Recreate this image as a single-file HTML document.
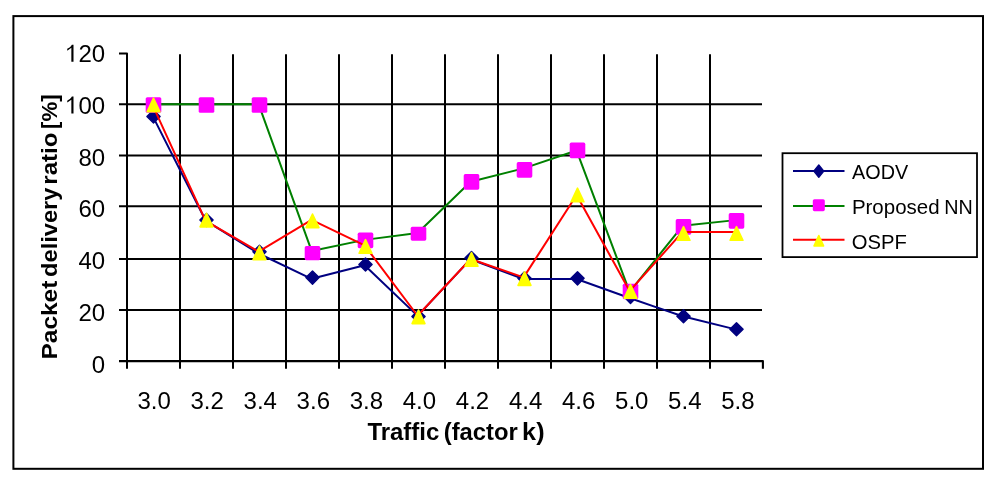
<!DOCTYPE html><html><head><meta charset="utf-8"><style>
html,body{margin:0;padding:0;background:#fff;width:1000px;height:480px;overflow:hidden}
svg{display:block;will-change:transform}
text{font-family:"Liberation Sans",sans-serif;font-variant-ligatures:none}
</style></head><body>
<svg width="1000" height="480" viewBox="0 0 1000 480">
<rect x="13.4" y="16.1" width="969.6" height="452.7" fill="none" stroke="#000" stroke-width="2"/>
<line x1="119" y1="310.1" x2="762" y2="310.1" stroke="#000" stroke-width="2"/>
<line x1="119" y1="259.05" x2="762" y2="259.05" stroke="#000" stroke-width="2"/>
<line x1="119" y1="206.25" x2="762" y2="206.25" stroke="#000" stroke-width="2"/>
<line x1="119" y1="155.4" x2="762" y2="155.4" stroke="#000" stroke-width="2"/>
<line x1="119" y1="104.3" x2="762" y2="104.3" stroke="#000" stroke-width="2"/>
<path d="M119 361.1H762.9V368.8" fill="none" stroke="#000" stroke-width="2.1" stroke-linejoin="round"/>
<path d="M119 53.5H127.0V368.8" fill="none" stroke="#000" stroke-width="2" stroke-linejoin="round"/>
<line x1="180.0" y1="54.2" x2="180.0" y2="368.8" stroke="#000" stroke-width="2"/>
<line x1="233.0" y1="54.2" x2="233.0" y2="368.8" stroke="#000" stroke-width="2"/>
<line x1="286.0" y1="54.2" x2="286.0" y2="368.8" stroke="#000" stroke-width="2"/>
<line x1="339.0" y1="54.2" x2="339.0" y2="368.8" stroke="#000" stroke-width="2"/>
<line x1="392.0" y1="54.2" x2="392.0" y2="368.8" stroke="#000" stroke-width="2"/>
<line x1="445.0" y1="54.2" x2="445.0" y2="368.8" stroke="#000" stroke-width="2"/>
<line x1="498.0" y1="54.2" x2="498.0" y2="368.8" stroke="#000" stroke-width="2"/>
<line x1="551.0" y1="54.2" x2="551.0" y2="368.8" stroke="#000" stroke-width="2"/>
<line x1="604.0" y1="54.2" x2="604.0" y2="368.8" stroke="#000" stroke-width="2"/>
<line x1="657.0" y1="54.2" x2="657.0" y2="368.8" stroke="#000" stroke-width="2"/>
<line x1="710.0" y1="54.2" x2="710.0" y2="368.8" stroke="#000" stroke-width="2"/>
<text x="105.2" y="372.75" font-size="24" text-anchor="end">0</text>
<text x="105.2" y="320.95" font-size="24" text-anchor="end">20</text>
<text x="105.2" y="269.15" font-size="24" text-anchor="end">40</text>
<text x="105.2" y="217.35" font-size="24" text-anchor="end">60</text>
<text x="105.2" y="165.55" font-size="24" text-anchor="end">80</text>
<text x="105.2" y="113.75" font-size="24" text-anchor="end">00</text>
<path d="M73.5 96.45L73.5 113.55L71.35 113.55L71.35 99.65L67.3 102.55L67.2 100.65C69.2 99.55 70.9 98.35 71.9 96.45Z" fill="#000"/>
<text x="105.2" y="61.95" font-size="24" text-anchor="end">20</text>
<path d="M73.5 44.65L73.5 61.75L71.35 61.75L71.35 47.85L67.3 50.75L67.2 48.85C69.2 47.75 70.9 46.55 71.9 44.65Z" fill="#000"/>
<text x="154.10" y="409.3" font-size="24" text-anchor="middle">3.0</text>
<text x="207.17" y="409.3" font-size="24" text-anchor="middle">3.2</text>
<text x="260.24" y="409.3" font-size="24" text-anchor="middle">3.4</text>
<text x="313.31" y="409.3" font-size="24" text-anchor="middle">3.6</text>
<text x="366.38" y="409.3" font-size="24" text-anchor="middle">3.8</text>
<text x="419.45" y="409.3" font-size="24" text-anchor="middle">4.0</text>
<text x="472.52" y="409.3" font-size="24" text-anchor="middle">4.2</text>
<text x="525.59" y="409.3" font-size="24" text-anchor="middle">4.4</text>
<text x="578.66" y="409.3" font-size="24" text-anchor="middle">4.6</text>
<text x="631.73" y="409.3" font-size="24" text-anchor="middle">5.0</text>
<text x="684.80" y="409.3" font-size="24" text-anchor="middle">5.4</text>
<text x="737.87" y="409.3" font-size="24" text-anchor="middle">5.8</text>
<text x="367.41" y="439.5" font-size="23" font-weight="bold" textLength="71.90" lengthAdjust="spacingAndGlyphs">Traffic</text>
<text x="443.78" y="439.5" font-size="23" font-weight="bold" textLength="73.98" lengthAdjust="spacingAndGlyphs">(factor</text>
<text x="522.13" y="439.5" font-size="23" font-weight="bold" textLength="22.40" lengthAdjust="spacingAndGlyphs">k)</text>
<text transform="translate(56.9,359.54) rotate(-90)" font-size="22.3" font-weight="bold" textLength="78.93" lengthAdjust="spacingAndGlyphs">Packet</text>
<text transform="translate(56.9,276.94) rotate(-90)" font-size="22.3" font-weight="bold" textLength="89.34" lengthAdjust="spacingAndGlyphs">delivery</text>
<text transform="translate(56.9,184.74) rotate(-90)" font-size="22.3" font-weight="bold" textLength="52.23" lengthAdjust="spacingAndGlyphs">ratio</text>
<text transform="translate(56.9,128.96) rotate(-90)" font-size="22.3" font-weight="bold" textLength="34.53" lengthAdjust="spacingAndGlyphs">[%]</text>
<polyline points="152.60,115.85 205.60,220.54 258.60,253.49 311.60,278.79 364.60,265.33 417.60,315.87 470.60,259.19 523.60,279.00 576.60,279.00 629.60,298.05 682.60,316.21 735.60,329.35" fill="none" stroke="#000080" stroke-width="2" stroke-linejoin="round"/>
<path d="M153.50 109.89L160.11 116.50L153.50 123.11L146.89 116.50Z" fill="#000080" stroke="#000080" stroke-width="1.4" stroke-linejoin="round"/>
<path d="M206.50 213.39L213.11 220.00L206.50 226.61L199.89 220.00Z" fill="#000080" stroke="#000080" stroke-width="1.4" stroke-linejoin="round"/>
<path d="M259.50 245.19L266.11 251.80L259.50 258.41L252.89 251.80Z" fill="#000080" stroke="#000080" stroke-width="1.4" stroke-linejoin="round"/>
<path d="M312.50 270.99L319.11 277.60L312.50 284.21L305.89 277.60Z" fill="#000080" stroke="#000080" stroke-width="1.4" stroke-linejoin="round"/>
<path d="M365.50 257.89L372.11 264.50L365.50 271.11L358.89 264.50Z" fill="#000080" stroke="#000080" stroke-width="1.4" stroke-linejoin="round"/>
<path d="M418.50 309.89L425.11 316.50L418.50 323.11L411.89 316.50Z" fill="#000080" stroke="#000080" stroke-width="1.4" stroke-linejoin="round"/>
<path d="M471.50 251.39L478.11 258.00L471.50 264.61L464.89 258.00Z" fill="#000080" stroke="#000080" stroke-width="1.4" stroke-linejoin="round"/>
<path d="M524.50 271.69L531.11 278.30L524.50 284.91L517.89 278.30Z" fill="#000080" stroke="#000080" stroke-width="1.4" stroke-linejoin="round"/>
<path d="M577.50 271.69L584.11 278.30L577.50 284.91L570.89 278.30Z" fill="#000080" stroke="#000080" stroke-width="1.4" stroke-linejoin="round"/>
<path d="M630.50 290.19L637.11 296.80L630.50 303.41L623.89 296.80Z" fill="#000080" stroke="#000080" stroke-width="1.4" stroke-linejoin="round"/>
<path d="M683.50 309.64L690.11 316.25L683.50 322.86L676.89 316.25Z" fill="#000080" stroke="#000080" stroke-width="1.4" stroke-linejoin="round"/>
<path d="M736.50 322.64L743.11 329.25L736.50 335.86L729.89 329.25Z" fill="#000080" stroke="#000080" stroke-width="1.4" stroke-linejoin="round"/>
<polyline points="152.60,104.15 205.60,104.15 258.60,104.15 311.60,250.91 364.60,239.87 417.60,233.08 470.60,181.76 523.60,168.35 576.60,150.56 629.60,291.84 682.60,225.86 735.60,220.12" fill="none" stroke="#008000" stroke-width="2" stroke-linejoin="round"/>
<rect x="145.70" y="97.20" width="15.60" height="15.60" rx="1.6" fill="#FF00FF"/>
<rect x="198.70" y="97.20" width="15.60" height="15.60" rx="1.6" fill="#FF00FF"/>
<rect x="251.70" y="97.20" width="15.60" height="15.60" rx="1.6" fill="#FF00FF"/>
<rect x="304.70" y="246.10" width="15.60" height="14.10" rx="1.6" fill="#FF00FF"/>
<rect x="357.70" y="232.60" width="15.60" height="15.60" rx="1.6" fill="#FF00FF"/>
<rect x="410.70" y="226.80" width="15.60" height="13.90" rx="1.6" fill="#FF00FF"/>
<rect x="463.70" y="174.10" width="15.60" height="15.60" rx="1.6" fill="#FF00FF"/>
<rect x="516.70" y="162.10" width="15.60" height="15.60" rx="1.6" fill="#FF00FF"/>
<rect x="569.70" y="142.60" width="15.60" height="15.60" rx="1.6" fill="#FF00FF"/>
<rect x="622.70" y="283.70" width="15.60" height="15.60" rx="1.6" fill="#FF00FF"/>
<rect x="675.70" y="219.10" width="15.60" height="15.60" rx="1.6" fill="#FF00FF"/>
<rect x="728.70" y="213.10" width="15.60" height="15.60" rx="1.6" fill="#FF00FF"/>
<polyline points="152.60,105.11 205.60,220.87 258.60,251.61 311.60,219.78 364.60,245.30 417.60,315.75 470.60,259.00 523.60,277.38 576.60,195.03 629.60,291.08 682.60,231.90 735.60,231.90" fill="none" stroke="#FF0000" stroke-width="2" stroke-linejoin="round"/>
<path d="M153.50 98.17L159.94 111.80L147.06 111.80Z" fill="#FFFF00" stroke="#FFFF00" stroke-width="1.6" stroke-linejoin="round"/>
<path d="M206.50 213.22L212.94 226.85L200.06 226.85Z" fill="#FFFF00" stroke="#FFFF00" stroke-width="1.6" stroke-linejoin="round"/>
<path d="M259.50 246.02L265.94 259.65L253.06 259.65Z" fill="#FFFF00" stroke="#FFFF00" stroke-width="1.6" stroke-linejoin="round"/>
<path d="M312.50 213.97L318.94 227.60L306.06 227.60Z" fill="#FFFF00" stroke="#FFFF00" stroke-width="1.6" stroke-linejoin="round"/>
<path d="M365.50 239.67L371.94 253.30L359.06 253.30Z" fill="#FFFF00" stroke="#FFFF00" stroke-width="1.6" stroke-linejoin="round"/>
<path d="M418.50 309.97L424.94 323.60L412.06 323.60Z" fill="#FFFF00" stroke="#FFFF00" stroke-width="1.6" stroke-linejoin="round"/>
<path d="M471.50 252.57L477.94 266.20L465.06 266.20Z" fill="#FFFF00" stroke="#FFFF00" stroke-width="1.6" stroke-linejoin="round"/>
<path d="M524.50 271.77L530.94 285.40L518.06 285.40Z" fill="#FFFF00" stroke="#FFFF00" stroke-width="1.6" stroke-linejoin="round"/>
<path d="M577.50 188.17L583.94 201.80L571.06 201.80Z" fill="#FFFF00" stroke="#FFFF00" stroke-width="1.6" stroke-linejoin="round"/>
<path d="M630.50 284.67L636.94 298.30L624.06 298.30Z" fill="#FFFF00" stroke="#FFFF00" stroke-width="1.6" stroke-linejoin="round"/>
<path d="M683.50 226.67L689.94 240.30L677.06 240.30Z" fill="#FFFF00" stroke="#FFFF00" stroke-width="1.6" stroke-linejoin="round"/>
<path d="M736.50 226.67L742.94 240.30L730.06 240.30Z" fill="#FFFF00" stroke="#FFFF00" stroke-width="1.6" stroke-linejoin="round"/>
<rect x="782.5" y="153.2" width="194.5" height="103.9" fill="#fff" stroke="#000" stroke-width="1.8"/>
<line x1="793" y1="171.1" x2="844.5" y2="171.1" stroke="#000080" stroke-width="2"/>
<path d="M818.80 165.00L823.79 171.10L818.80 177.20L813.81 171.10Z" fill="#000080" stroke="#000080" stroke-width="1.4" stroke-linejoin="round"/>
<line x1="793" y1="205.9" x2="844.5" y2="205.9" stroke="#008000" stroke-width="2"/>
<rect x="812.80" y="199.20" width="12.00" height="12.00" rx="1.6" fill="#FF00FF"/>
<line x1="793" y1="239.7" x2="844.5" y2="239.7" stroke="#FF0000" stroke-width="2"/>
<path d="M818.80 235.52L823.55 245.90L814.05 245.90Z" fill="#FFFF00" stroke="#FFFF00" stroke-width="1.6" stroke-linejoin="round"/>
<text x="852.05" y="178.9" font-size="19.5" textLength="56.10" lengthAdjust="spacingAndGlyphs">AODV</text>
<text x="851.92" y="213.7" font-size="19.5" textLength="87.62" lengthAdjust="spacingAndGlyphs">Proposed</text>
<text x="944.28" y="213.7" font-size="19.5" textLength="28.52" lengthAdjust="spacingAndGlyphs">NN</text>
<text x="851.69" y="249.1" font-size="19.5" textLength="55.06" lengthAdjust="spacingAndGlyphs">OSPF</text>
</svg></body></html>
